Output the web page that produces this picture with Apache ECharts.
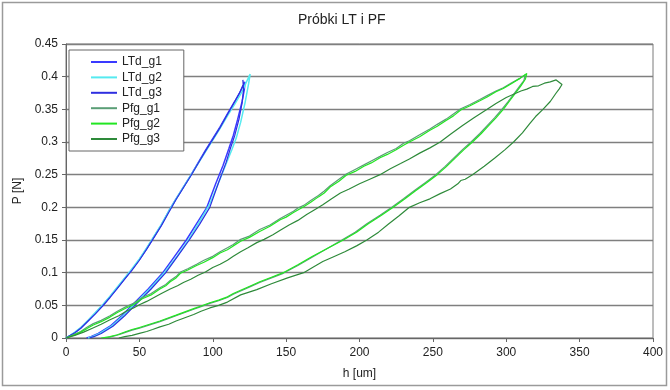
<!DOCTYPE html>
<html><head><meta charset="utf-8">
<script src="https://cdn.jsdelivr.net/npm/echarts/dist/echarts.min.js"></script>
<style>html,body{margin:0;padding:0;background:#fff}#c{width:670px;height:390px}</style>
</head><body><div id="c"></div>
<script>
const chartTitle = 'Próbki LT i PF';
const xName = 'h [um]';
const yName = 'P [N]';
const xTicks = [0, 50, 100, 150, 200, 250, 300, 350, 400];
const yTicks = [0, 0.05, 0.1, 0.15, 0.2, 0.25, 0.3, 0.35, 0.4, 0.45];
const seriesNames = ['LTd_g1', 'LTd_g2', 'LTd_g3', 'Pfg_g1', 'Pfg_g2', 'Pfg_g3'];

const ltdG1 = [[0,0],[3,0.004],[6,0.008],[10,0.015],[15,0.026],[20,0.038],[25,0.05],[30,0.063],[35,0.077],[40,0.091],[45,0.105],[50,0.12],[55,0.137],[60,0.155],[65,0.173],[70,0.194],[75,0.213],[80,0.231],[85,0.249],[90,0.268],[95,0.287],[100,0.305],[105,0.323],[110,0.343],[115,0.362],[119,0.378],[122,0.392],
  [121.5,0.38],[120,0.362],[117,0.335],[114,0.31],[111,0.29],[107,0.264],[102,0.236],[96,0.2],[89,0.175],[82,0.15],[74,0.125],[66,0.1],[56,0.075],[45,0.05],[38,0.034],[30,0.018],[22,0.007],[17,0.002],[14,0]];
const ltdG2 = [[0,0],[3,0.004],[6,0.009],[10,0.016],[15,0.027],[20,0.039],[25,0.051],[30,0.064],[35,0.078],[40,0.092],[45,0.106],[50,0.121],[55,0.138],[60,0.156],[65,0.174],[70,0.194],[75,0.213],[80,0.231],[85,0.249],[90,0.267],[95,0.285],[100,0.303],[105,0.321],[110,0.34],[115,0.358],[120,0.377],[123,0.392],[125.5,0.404],
  [124.5,0.39],[122,0.36],[119,0.33],[116,0.306],[113,0.288],[109,0.266],[104,0.238],[98,0.205],[91,0.178],[84,0.152],[76,0.126],[67,0.1],[57,0.075],[46,0.05],[39,0.034],[31,0.018],[23,0.007],[18,0.002],[15,0]];
const ltdG3 = [[0,0],[3,0.004],[6,0.008],[10,0.015],[15,0.026],[20,0.037],[25,0.049],[30,0.062],[35,0.076],[40,0.09],[45,0.104],[50,0.119],[55,0.136],[60,0.154],[65,0.172],[70,0.192],[75,0.212],[80,0.23],[85,0.248],[90,0.267],[95,0.286],[100,0.304],[105,0.322],[110,0.342],[114,0.358],[118,0.374],[121,0.389],[120.5,0.395],
  [121,0.38],[120,0.36],[118,0.336],[115,0.31],[112,0.29],[109,0.268],[104,0.238],[98,0.2],[91,0.174],[84,0.15],[76,0.125],[68,0.1],[58,0.075],[47,0.05],[40,0.034],[32,0.018],[24,0.007],[19,0.002],[16,0]];

const pfgG1 = [[0,0],[5,0.005],[10,0.01],[14,0.016],[18.6,0.022],[24,0.027],[30,0.034],[35,0.041],[41,0.048],[46,0.053],[52,0.062],[58,0.068],[64,0.077],[68,0.082],[71,0.088],[75,0.094],[78,0.101],[83,0.106],[89,0.113],[94,0.119],[100,0.125],[105,0.132],[110,0.138],[114,0.143],[119,0.151],[125,0.156],[132,0.166],[139,0.173],[146,0.183],[150,0.188],[155,0.194],[158,0.199],[162,0.203],[167,0.211],[172,0.218],[176,0.225],[180,0.233],[186,0.243],[191,0.251],[197,0.258],[203,0.265],[208,0.271],[214,0.278],[219,0.284],[225,0.29],[230,0.298],[234,0.302],[241,0.311],[248,0.32],[253,0.327],[259,0.335],[264,0.343],[269,0.351],[275,0.357],[282,0.365],[287,0.371],[293,0.378],[298,0.383],[304,0.391],[309,0.397],[313,0.403],
  [314,0.401],[312,0.394],[309,0.385],[305,0.373],[301,0.361],[297,0.35],[292,0.337],[287,0.325],[282,0.313],[276,0.3],[270,0.288],[264,0.275],[258,0.262],[252,0.25],[245,0.238],[237,0.225],[230,0.213],[222,0.2],[214,0.188],[205,0.175],[197,0.162],[188,0.15],[178,0.137],[168,0.124],[158,0.111],[148,0.099],[140,0.092],[132,0.085],[126,0.079],[119,0.072],[114,0.067],[110,0.062],[104,0.057],[98,0.053],[92,0.048],[87,0.044],[81,0.039],[75,0.034],[70,0.03],[64,0.025],[57,0.02],[50,0.015],[45,0.012],[41,0.009],[36,0.005],[31,0.002],[29,0.001],[26,0]];
const pfgG2 = [[0,0],[5,0.004],[10,0.009],[14,0.014],[18.6,0.02],[24,0.025],[30,0.032],[35,0.039],[41,0.046],[46,0.051],[52,0.06],[58,0.066],[64,0.075],[68,0.08],[71,0.086],[75,0.092],[78,0.099],[83,0.104],[89,0.111],[94,0.116],[100,0.123],[105,0.13],[110,0.135],[114,0.141],[119,0.148],[125,0.154],[132,0.163],[139,0.171],[146,0.181],[150,0.185],[155,0.192],[158,0.196],[162,0.201],[167,0.208],[172,0.216],[176,0.222],[180,0.231],[186,0.24],[191,0.249],[197,0.255],[203,0.263],[208,0.268],[214,0.276],[219,0.281],[225,0.288],[230,0.295],[234,0.3],[241,0.308],[248,0.318],[253,0.324],[259,0.333],[264,0.34],[269,0.349],[275,0.355],[282,0.363],[287,0.369],[293,0.377],[298,0.382],[304,0.39],[309,0.397],[314,0.405],
  [315,0.403],[313,0.396],[310,0.386],[306,0.374],[302,0.362],[298,0.35],[293,0.337],[288,0.325],[283,0.313],[277,0.3],[271,0.288],[265,0.275],[259,0.262],[253,0.25],[246,0.238],[238,0.225],[231,0.213],[223,0.2],[215,0.188],[206,0.175],[198,0.162],[189,0.15],[179,0.138],[168,0.125],[158,0.112],[148,0.1],[140,0.093],[132,0.086],[126,0.08],[119,0.073],[114,0.068],[110,0.063],[104,0.058],[98,0.054],[92,0.049],[87,0.045],[81,0.04],[75,0.035],[70,0.031],[64,0.026],[57,0.021],[50,0.016],[45,0.013],[41,0.01],[35,0.005],[30,0.002],[27,0.001],[24,0]];
const pfgG3 = [[0,0],[6,0.004],[12,0.009],[18,0.015],[24,0.021],[30,0.028],[36,0.034],[41,0.041],[46,0.046],[50,0.051],[55,0.056],[60,0.062],[65,0.068],[71,0.075],[76,0.08],[80,0.085],[85,0.09],[90,0.096],[95,0.101],[100,0.108],[105,0.113],[110,0.119],[114,0.125],[119,0.132],[124,0.138],[130,0.146],[135,0.151],[141,0.158],[146,0.165],[152,0.173],[158,0.18],[164,0.189],[170,0.197],[175,0.204],[181,0.213],[187,0.222],[193,0.228],[200,0.236],[207,0.243],[214,0.25],[221,0.259],[228,0.267],[234,0.274],[241,0.283],[248,0.291],[255,0.3],[262,0.312],[270,0.325],[278,0.337],[287,0.35],[293,0.359],[300,0.368],[305,0.373],[310,0.378],[314,0.381],[318,0.385],[322,0.386],[326,0.39],[330,0.392],[334,0.395],[338,0.388],
  [336,0.381],[334,0.375],[330,0.362],[325,0.35],[320,0.339],[316,0.328],[311,0.314],[305,0.3],[299,0.288],[292,0.275],[285,0.263],[277,0.25],[272,0.243],[269,0.241],[267,0.236],[262,0.228],[255,0.221],[248,0.213],[241,0.207],[234,0.2],[227,0.187],[220,0.175],[213,0.162],[205,0.15],[198,0.141],[190,0.132],[182,0.124],[175,0.117],[168,0.108],[162,0.1],[151,0.092],[140,0.083],[130,0.074],[119,0.066],[110,0.055],[104,0.05],[98,0.046],[92,0.041],[87,0.036],[81,0.031],[75,0.026],[70,0.021],[64,0.017],[59,0.013],[55,0.01],[50,0.007],[45,0.004],[40,0.002],[36,0]];

const seriesData = [ltdG1, ltdG2, ltdG3, pfgG1, pfgG2, pfgG3];
const colors = ['#3a3aff', '#55eaf0', '#2f2fe0', '#5a9e76', '#22e622', '#2e8a3a'];
const widths = [1.5, 1.5, 1.2, 1.2, 1.2, 1.2];

const font = 'Liberation Sans, Arial, sans-serif';
const chart = echarts.init(document.getElementById('c'), null, {renderer: 'canvas'});
chart.setOption({
  animation: false,
  backgroundColor: '#ffffff',
  textStyle: {fontFamily: font},
  title: {text: chartTitle, left: 298, top: 13, padding: 0, textStyle: {fontSize: 14, fontWeight: 'normal', color: '#222', fontFamily: font}},
  graphic: [{type: 'rect', shape: {x: 2.5, y: 2.5, width: 664, height: 383}, style: {fill: 'none', stroke: '#9a9a9a', lineWidth: 1.5}, silent: true, z: -1}],
  grid: {left: 66, right: 17, top: 44, bottom: 52, show: true, borderColor: '#7a7a7a', borderWidth: 1, backgroundColor: '#fff'},
  legend: {
    orient: 'vertical', left: 69, top: 50,
    data: seriesNames,
    itemWidth: 26, itemHeight: 12, itemGap: 3.4,
    padding: [6, 22, 6, 22],
    borderColor: '#666', borderWidth: 1, backgroundColor: '#fff',
    textStyle: {fontSize: 12, color: '#222', fontFamily: font},
    icon: 'path://M0,5 L26,5 L26,7 L0,7 Z'
  },
  xAxis: {
    type: 'value', min: xTicks[0], max: xTicks[xTicks.length - 1], interval: 50,
    name: xName, nameLocation: 'middle', nameGap: 30,
    nameTextStyle: {fontSize: 12, color: '#222', fontFamily: font},
    axisLine: {show: true, lineStyle: {color: '#666', width: 1}},
    axisTick: {show: true, inside: false, length: 4, lineStyle: {color: '#666'}},
    axisLabel: {fontSize: 12, color: '#222', margin: 9, fontFamily: font},
    splitLine: {show: false}
  },
  yAxis: {
    type: 'value', min: yTicks[0], max: yTicks[yTicks.length - 1], interval: 0.05,
    name: yName, nameLocation: 'middle', nameGap: 35,
    nameTextStyle: {fontSize: 12, color: '#222', fontFamily: font},
    axisLine: {show: true, lineStyle: {color: '#666', width: 1}},
    axisTick: {show: true, inside: false, length: 4, lineStyle: {color: '#666'}},
    axisLabel: {fontSize: 12, color: '#222', margin: 8, fontFamily: font, formatter: v => String(+v.toFixed(2))},
    splitLine: {show: true, lineStyle: {color: '#7f7f7f', width: 1.3}}
  },
  series: seriesNames.map((n, i) => ({
    name: n, type: 'line', data: seriesData[i], symbol: 'none', showSymbol: false,
    lineStyle: {color: colors[i], width: widths[i]}, itemStyle: {color: colors[i]},
    z: 2 + i
  }))
});
</script></body></html>
